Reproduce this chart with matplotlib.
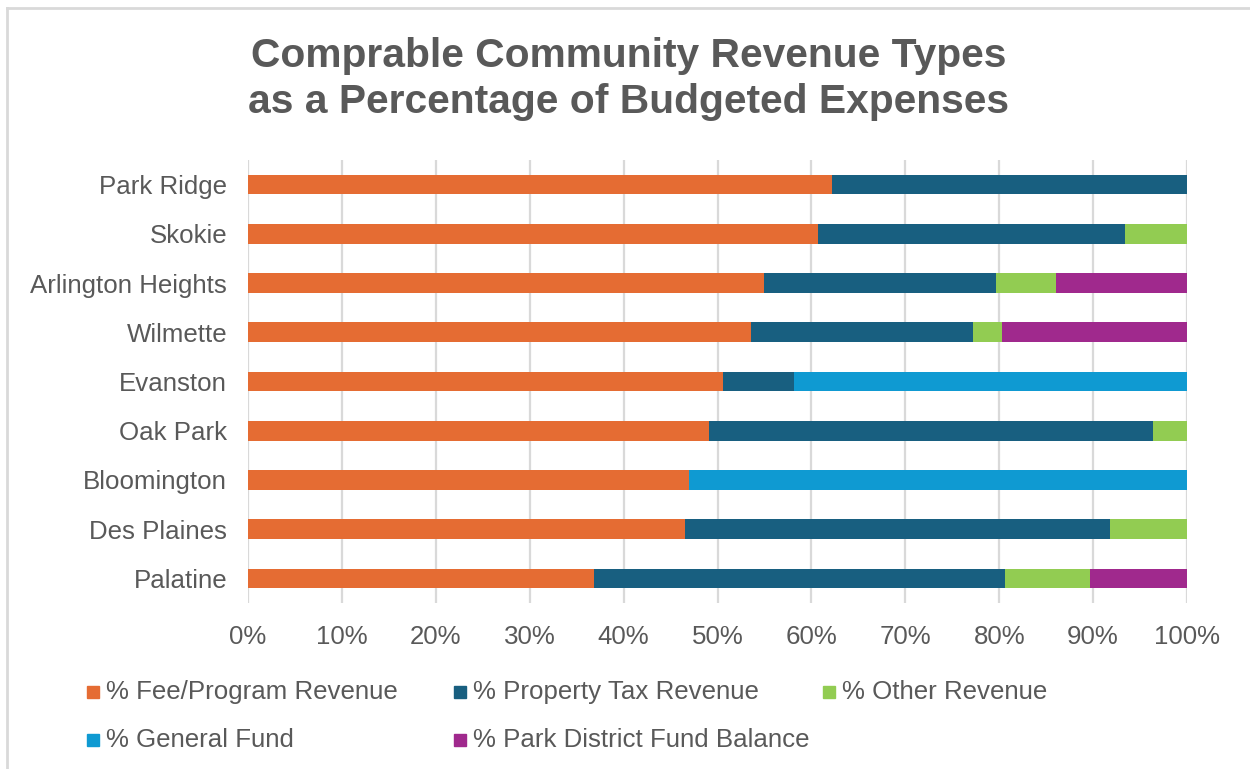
import matplotlib
matplotlib.use("Agg")
import matplotlib.pyplot as plt
import numpy as np
from matplotlib.patches import Rectangle
from matplotlib.lines import Line2D

# Data (percent of budgeted expenses)
communities = ["Park Ridge", "Skokie", "Arlington Heights", "Wilmette", "Evanston",
               "Oak Park", "Bloomington", "Des Plaines", "Palatine"]
fee_program = [62.2, 60.7, 54.9, 53.6, 50.6, 49.1, 47.0, 46.5, 36.8]
property_tax = [37.8, 32.7, 24.8, 23.6, 7.5, 47.3, 0.0, 45.3, 43.8]
other_rev = [0.0, 6.6, 6.4, 3.1, 0.0, 3.6, 0.0, 8.2, 9.1]
general_fund = [0.0, 0.0, 0.0, 0.0, 41.9, 0.0, 53.0, 0.0, 0.0]
park_fund_bal = [0.0, 0.0, 13.9, 19.7, 0.0, 0.0, 0.0, 0.0, 10.3]

series_names = ["% Fee/Program Revenue", "% Property Tax Revenue", "% Other Revenue",
                "% General Fund", "% Park District Fund Balance"]
series_vals = [fee_program, property_tax, other_rev, general_fund, park_fund_bal]
colors = ['#E56C33', '#185F80', '#92CC52', '#0F9AD2', '#A0298D']
xtick_vals = np.arange(0, 101, 10)

text_col = '#595959'
plt.rcParams['font.family'] = ['Liberation Sans', 'DejaVu Sans']
plt.rcParams.update({'font.size': 18.6})

W, H = 1250, 769
fig = plt.figure(figsize=(12.5, 7.69), dpi=100)
ax = fig.add_axes([248 / W, 1 - 603 / H, (1187 - 248) / W, (603 - 160) / H])

y = np.arange(len(communities))
left = np.zeros(len(communities))
for name, vals, c in zip(series_names, series_vals, colors):
    vals = np.array(vals)
    ax.barh(y, vals, left=left, height=0.4, color=c, label=name, zorder=3)
    left += vals

ax.set_ylim(len(communities) - 0.5, -0.5)
ax.set_xlim(0, 100)
ax.set_yticks(y)
ax.set_yticklabels(communities, color=text_col)
ax.set_xticks(xtick_vals)
ax.set_xticklabels([f"{v}%" for v in xtick_vals], color=text_col)
ax.tick_params(axis='both', length=0)
ax.tick_params(axis='x', pad=16)
ax.tick_params(axis='y', pad=15)
ax.grid(axis='x', color='#D9D9D9', linewidth=1.6, zorder=0)
for s in ax.spines.values():
    s.set_visible(False)

# Title
fig.text(0.503, 1 - 79 / H, "Comprable Community Revenue Types\nas a Percentage of Budgeted Expenses",
         ha='center', va='center', fontsize=29.3, fontweight='bold', color=text_col, linespacing=1.25)

# Legend, laid out like the original (3 columns, 2 rows)
marker_x = [87, 454, 823, 87, 454]
row_y = [692, 692, 692, 740, 740]
for name, c, mx, ry in zip(series_names, colors, marker_x, row_y):
    fig.patches.append(Rectangle((mx / W, 1 - (ry + 6) / H), 12 / W, 12 / H,
                                 transform=fig.transFigure, color=c))
    fig.text((mx + 19) / W, 1 - ry / H, name, ha='left', va='center', color=text_col, fontsize=18.6)

# Light outer border (top and left visible)
fig.lines.append(Line2D([7 / W, 1.0], [1 - 8 / H, 1 - 8 / H], transform=fig.transFigure,
                        color='#D9D9D9', linewidth=2))
fig.lines.append(Line2D([7 / W, 7 / W], [0, 1 - 8 / H], transform=fig.transFigure,
                        color='#D9D9D9', linewidth=2))

fig.savefig("out.png", dpi=100, facecolor='white')
